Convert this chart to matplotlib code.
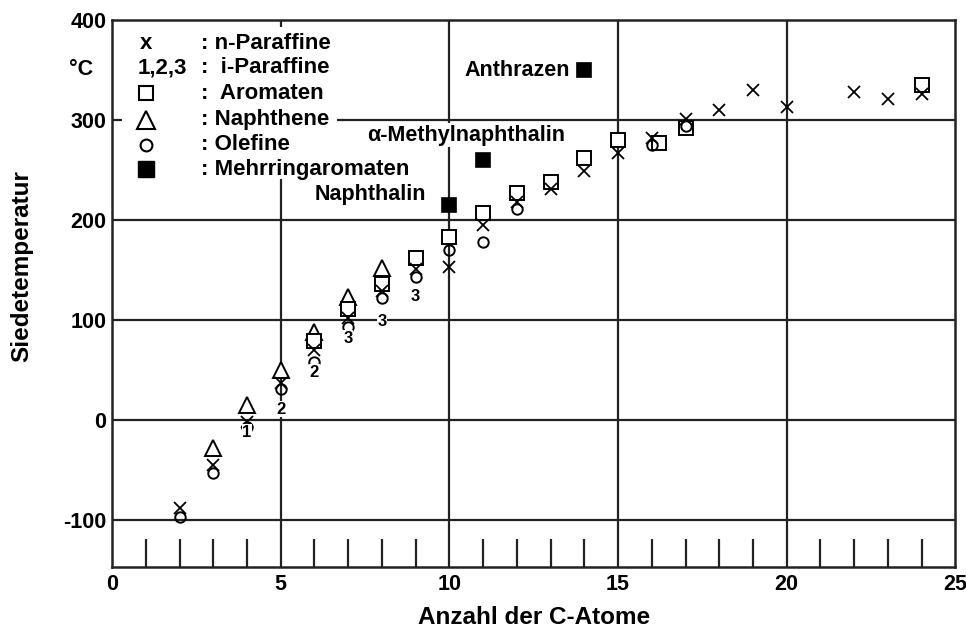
import matplotlib
matplotlib.use("Agg")
import matplotlib.pyplot as plt
from matplotlib.patches import Rectangle

plt.rcParams['font.family'] = ['Liberation Sans', 'DejaVu Sans']
plt.rcParams['font.weight'] = 'bold'
plt.rcParams['axes.unicode_minus'] = False

# n-Paraffine (x)
npar_c = [2, 3, 4, 5, 6, 7, 8, 9, 10, 11, 12, 13, 14, 15, 16, 17, 18, 19, 20, 22, 23, 24]
npar_t = [-88, -45, -2, 37, 70, 102, 129, 151, 153, 195, 218, 231, 249, 267, 282, 301, 310, 330, 313, 328, 321, 326]

# i-Paraffine (numerals = number of branches)
ipar_c = [4, 5, 6, 7, 8, 9]
ipar_t = [-12, 11, 48, 82, 99, 124]
ipar_lbl = ['1', '2', '2', '3', '3', '3']

# Aromaten (open squares)
arom_c = [6, 7, 8, 9, 10, 11, 12, 13, 14, 15, 16.2, 17, 24]
arom_t = [79, 111, 136, 162, 183, 207, 227, 238, 262, 280, 277, 292, 335]

# Naphthene (open triangles)
naph_c = [3, 4, 5, 6, 7, 8]
naph_t = [-28, 15, 50, 88, 123, 152]

# Olefine (open circles)
olef_c = [2, 3, 4, 5, 6, 7, 8, 9, 10, 11, 12, 16, 17]
olef_t = [-97, -53, -7, 31, 58, 93, 122, 143, 170, 178, 211, 275, 294]

# Mehrringaromaten (filled squares)
mehr_c = [10, 11, 14]
mehr_t = [215, 260, 350]
mehr_names = ['Naphthalin', '\u03b1-Methylnaphthalin', 'Anthrazen']
mehr_offsets = [(-17, 8), (59, 18), (-10, 0)]

fig = plt.figure(figsize=(9.66, 6.35), dpi=100)
ax = fig.add_axes([0.116, 0.107, 0.873, 0.861])
ax.set_xlim(0, 25)
ax.set_ylim(-147, 400)

# grid
for xv in [5, 10, 15, 20]:
    ax.axvline(xv, color='#222222', lw=1.6, zorder=1)
for yv in [-100, 0, 100, 200, 300]:
    ax.axhline(yv, color='#222222', lw=1.6, zorder=1)

ax.set_xticks([0, 5, 10, 15, 20, 25])
ax.set_xticks([c for c in range(1, 25) if c % 5], minor=True)
ax.tick_params(axis='x', which='major', length=0, pad=5, labelsize=15.5)
ax.tick_params(axis='x', which='minor', direction='in', length=20, width=1.6, color='#222222')
ax.set_yticks([-100, 0, 100, 200, 300, 400])
ax.tick_params(axis='y', length=0, pad=4, labelsize=15.5)
for lab in ax.get_xticklabels() + ax.get_yticklabels():
    lab.set_fontweight('bold')
for sp in ax.spines.values():
    sp.set_linewidth(1.8)
    sp.set_color('#222222')

ax.set_xlabel('Anzahl der C-Atome', fontsize=17.5, fontweight='bold', labelpad=8)
ax.set_ylabel('Siedetemperatur', fontsize=17.5, fontweight='bold')
ax.yaxis.set_label_coords(-0.094, 0.55)
ax.text(-0.022, 0.91, '\u00b0C', transform=ax.transAxes, ha='right', va='center',
        fontsize=15.5, fontweight='bold')

mk = dict(color='black', linestyle='none', zorder=5)
ax.plot(naph_c, naph_t, marker='^', ms=11, mfc='white', mew=1.4, **mk)
ax.plot(arom_c, arom_t, marker='s', ms=9.5, mfc='white', mew=1.4, **mk)
ax.plot(olef_c, olef_t, marker='o', ms=7.5, mfc='none', mew=1.4, **mk)
ax.plot(npar_c, npar_t, marker='x', ms=8, mew=1.3, **mk)
ax.plot(mehr_c, mehr_t, marker='s', ms=9.5, mfc='black', mew=1.2, **mk)

for c, t, s in zip(ipar_c, ipar_t, ipar_lbl):
    ax.text(c, t, s, ha='center', va='center', fontsize=12, fontweight='bold', zorder=6,
            bbox=dict(facecolor='white', edgecolor='none', pad=0.5))

for c, t, name, off in zip(mehr_c, mehr_t, mehr_names, mehr_offsets):
    ax.annotate(name, (c, t), xytext=off, textcoords='offset points', ha='right', va='center',
                fontsize=15.5, fontweight='bold', zorder=6,
                bbox=dict(facecolor='white', edgecolor='none', pad=1))

# legend block
ax.add_patch(Rectangle((0.012, 0.71), 0.255, 0.277, transform=ax.transAxes,
                       facecolor='white', edgecolor='none', zorder=3))
rows = [0.957, 0.913, 0.867, 0.818, 0.772, 0.728]
sym_x = 0.040
ax.text(sym_x, rows[0], 'x', transform=ax.transAxes, ha='center', va='center', fontsize=16, zorder=6)
ax.text(0.030, rows[1], '1,2,3', transform=ax.transAxes, ha='left', va='center', fontsize=16, zorder=6)
ax.plot([sym_x], [rows[2]], transform=ax.transAxes, marker='s', ms=10, mfc='white', mew=1.5, **mk)
ax.plot([sym_x], [rows[3]], transform=ax.transAxes, marker='^', ms=12.5, mfc='white', mew=1.5, **mk)
ax.plot([sym_x], [rows[4]], transform=ax.transAxes, marker='o', ms=8.5, mfc='white', mew=1.5, **mk)
ax.plot([sym_x], [rows[5]], transform=ax.transAxes, marker='s', ms=11, mfc='black', **mk)
labels = [': n-Paraffine', ':  i-Paraffine', ':  Aromaten', ': Naphthene', ': Olefine', ': Mehrringaromaten']
for r, s in zip(rows, labels):
    ax.text(0.106, r, s, transform=ax.transAxes, ha='left', va='center', fontsize=16, zorder=6)

fig.savefig('out.png', dpi=100)
